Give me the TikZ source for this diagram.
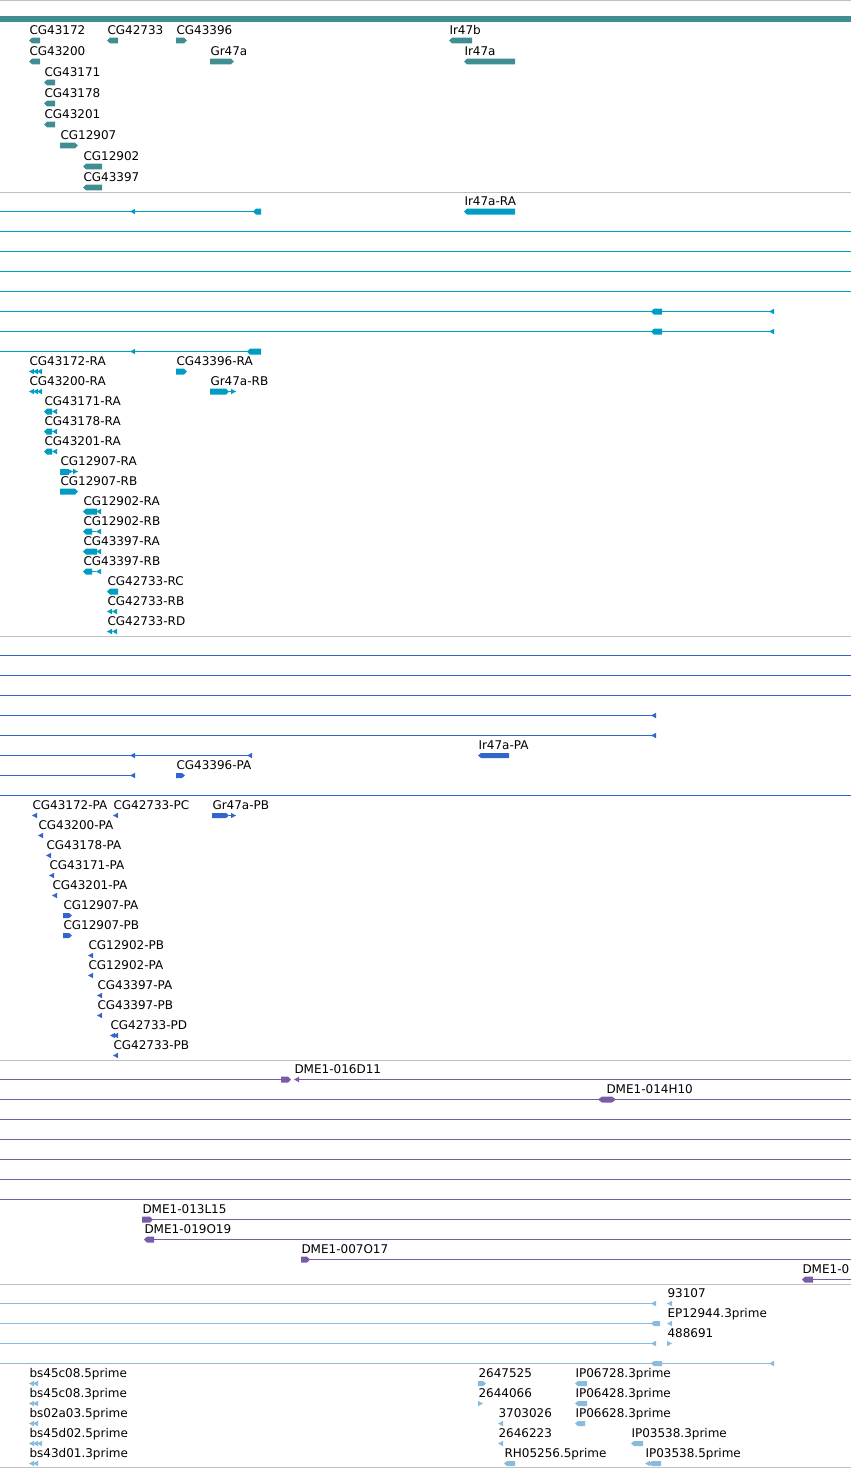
\documentclass[tikz,border=0pt]{standalone}
\usepackage{fontspec}
\setmainfont{DejaVu Sans}

\definecolor{sepgray}{RGB}{192,192,192}
\definecolor{genecol}{RGB}{64,142,145}
\definecolor{trancol}{RGB}{0,156,196}
\definecolor{protcol}{RGB}{51,102,204}
\definecolor{clonecol}{RGB}{120,92,170}
\definecolor{estcol}{RGB}{136,187,221}

% glyph half height, changed per track
\newcommand{\glyphh}{3}
% blocks pointing left / right: x1, x2, y
\newcommand{\blkL}[3]{\fill (#1,#3) -- ({#1+3},{#3-\glyphh}) -- (#2,{#3-\glyphh}) -- (#2,{#3+\glyphh}) -- ({#1+3},{#3+\glyphh}) -- cycle;}
\newcommand{\blkR}[3]{\fill (#2,#3) -- ({#2-3},{#3-\glyphh}) -- (#1,{#3-\glyphh}) -- (#1,{#3+\glyphh}) -- ({#2-3},{#3+\glyphh}) -- cycle;}
% small triangles: x, y
\newcommand{\triL}[2]{\fill (#1,#2) -- ({#1+5},{#2-2.7}) -- ({#1+5},{#2+2.7}) -- cycle;}
\newcommand{\triR}[2]{\fill ({#1+5},#2) -- (#1,{#2-2.7}) -- (#1,{#2+2.7}) -- cycle;}
% label above a glyph row: name, x, y of row, text
\newcommand{\flab}[4]{\node[lbl] (#1) at (#2,{#3-6}) {#4};}

\begin{document}
\begin{tikzpicture}[x=1pt,y=-1pt]
\tikzset{
  lbl/.style={anchor=base west, inner sep=0pt, text=black, font=\fontsize{12}{14}\selectfont},
  sep/.style={draw=sepgray, line width=1pt},
  trk/.style={line width=1pt}
}
\useasboundingbox (0,0) rectangle (851,1468);

% half a pixel down, so the 1px rules sit on pixel rows
\begin{scope}[yshift=-0.5pt]

% track separators
\foreach \y in {0,192,636,1060,1284,1467}
  \draw[sep] (0,\y) -- (851,\y);

% genes
\begin{scope}[color=genecol, trk]
\renewcommand{\glyphh}{2.8}
\fill (0,15.5) rectangle (851,21.5);
\flab{g1}{29}{40}{CG43172} \blkL{29}{40}{40}
\flab{g2}{107}{40}{CG42733} \blkL{107}{118}{40}
\flab{g3}{176}{40}{CG43396} \blkR{176}{187}{40}
\flab{g4}{449}{40}{Ir47b} \blkL{449}{472}{40}
\flab{g5}{29}{61}{CG43200} \blkL{29}{40}{61}
\flab{g6}{210}{61}{Gr47a} \blkR{210}{234}{61}
\flab{g7}{464}{61}{Ir47a} \blkL{464}{515}{61}
\flab{g8}{44}{82}{CG43171} \blkL{44}{55}{82}
\flab{g9}{44}{103}{CG43178} \blkL{44}{55}{103}
\flab{g10}{44}{124}{CG43201} \blkL{44}{55}{124}
\flab{g11}{60}{145}{CG12907} \blkR{60}{78}{145}
\flab{g12}{83}{166}{CG12902} \blkL{83}{102}{166}
\flab{g13}{83}{187}{CG43397} \blkL{83}{102}{187}
\end{scope}

% transcripts
\begin{scope}[color=trancol, trk]
\draw (0,211) -- (260,211); \triL{130}{211} \blkL{253}{261}{211}
\flab{t1}{464}{211}{Ir47a-RA} \blkL{464}{515}{211}
\foreach \y in {231,251,271,291}
  \draw (0,\y) -- (851,\y);
\foreach \y in {311,331}
  {\draw (0,\y) -- (772,\y); \blkL{651}{662}{\y} \triL{769}{\y}}
\draw (0,351) -- (260,351); \triL{130}{351} \blkL{247}{261}{351}
\flab{t2}{29}{371}{CG43172-RA} \triL{29}{371}\triL{33}{371}\triL{37}{371}
\flab{t3}{176}{371}{CG43396-RA} \blkR{176}{187}{371}
\flab{t4}{29}{391}{CG43200-RA} \triL{29}{391}\triL{33}{391}\triL{37}{391}
\flab{t5}{210}{391}{Gr47a-RB} \blkR{210}{229}{391} \draw (229,391) -- (232,391); \triR{231}{391}
\flab{t6}{44}{411}{CG43171-RA} \blkL{44}{52}{411} \triL{52}{411}
\flab{t7}{44}{431}{CG43178-RA} \blkL{44}{52}{431} \triL{52}{431}
\flab{t8}{44}{451}{CG43201-RA} \blkL{44}{52}{451} \triL{52}{451}
\flab{t9}{60}{471}{CG12907-RA} \fill (60,468) rectangle (69,474); \triR{68}{471}\triR{73}{471}
\flab{t10}{60}{491}{CG12907-RB} \blkR{60}{78}{491}
\flab{t11}{83}{511}{CG12902-RA} \blkL{83}{97}{511} \triL{96}{511}
\flab{t12}{83}{531}{CG12902-RB} \blkL{83}{92}{531} \draw (92,531) -- (96,531); \triL{96}{531}
\flab{t13}{83}{551}{CG43397-RA} \blkL{83}{97}{551} \triL{96}{551}
\flab{t14}{83}{571}{CG43397-RB} \blkL{83}{92}{571} \draw (92,571) -- (96,571); \triL{96}{571}
\flab{t15}{107}{591}{CG42733-RC} \blkL{107}{118}{591}
\flab{t16}{107}{611}{CG42733-RB} \triL{107}{611}\triL{112}{611}
\flab{t17}{107}{631}{CG42733-RD} \triL{107}{631}\triL{112}{631}
\end{scope}

% proteins
\begin{scope}[color=protcol, trk]
\renewcommand{\glyphh}{2.5}
\foreach \y in {655,675,695,795}
  \draw (0,\y) -- (851,\y);
\foreach \y in {715,735}
  {\draw (0,\y) -- (655,\y); \triL{651}{\y}}
\draw (0,755) -- (251,755); \triL{130}{755} \triL{247}{755}
\draw (0,775) -- (134,775); \triL{130}{775}
\flab{p1}{478}{755}{Ir47a-PA} \blkL{478}{509}{755}
\flab{p2}{176}{775}{CG43396-PA} \blkR{176}{185}{775}
\flab{p3}{32}{815}{CG43172-PA} \triL{32}{815}
\flab{p4}{113}{815}{CG42733-PC} \triL{113}{815}
\flab{p5}{212}{815}{Gr47a-PB} \blkR{212}{229}{815} \draw (229,815) -- (232,815); \triR{231}{815}
\flab{p6}{38}{835}{CG43200-PA} \triL{38}{835}
\flab{p7}{46}{855}{CG43178-PA} \triL{46}{855}
\flab{p8}{49}{875}{CG43171-PA} \triL{49}{875}
\flab{p9}{52}{895}{CG43201-PA} \triL{52}{895}
\flab{p10}{63}{915}{CG12907-PA} \blkR{63}{72}{915}
\flab{p11}{63}{935}{CG12907-PB} \blkR{63}{72}{935}
\flab{p12}{88}{955}{CG12902-PB} \triL{88}{955}
\flab{p13}{88}{975}{CG12902-PA} \triL{88}{975}
\flab{p14}{97}{995}{CG43397-PA} \triL{97}{995}
\flab{p15}{97}{1015}{CG43397-PB} \triL{97}{1015}
\flab{p16}{110}{1035}{CG42733-PD} \triL{110}{1035}\triL{113}{1035}
\flab{p17}{113}{1055}{CG42733-PB} \triL{113}{1055}
\end{scope}

% BAC clones
\begin{scope}[color=clonecol, trk]
\draw (0,1079) -- (282,1079); \blkR{281}{291}{1079} \triL{294}{1079}
\draw (298,1079) -- (851,1079);
\flab{d1}{294}{1079}{DME1-016D11}
\foreach \y in {1099,1119,1139,1159,1179,1199}
  \draw (0,\y) -- (851,\y);
\fill (598,1099) -- (602,1096) -- (612,1096) -- (616,1099) -- (612,1102) -- (602,1102) -- cycle;
\flab{d2}{606}{1099}{DME1-014H10}
\flab{d3}{142}{1219}{DME1-013L15} \blkR{142}{153}{1219} \draw (153,1219) -- (851,1219);
\flab{d4}{144}{1239}{DME1-019O19} \blkL{144}{154}{1239} \draw (154,1239) -- (851,1239);
\flab{d5}{301}{1259}{DME1-007O17} \blkR{301}{310}{1259} \draw (310,1259) -- (851,1259);
\flab{d6}{802}{1279}{DME1-0} \blkL{802}{813}{1279} \draw (813,1279) -- (851,1279);
\end{scope}

% ESTs
\begin{scope}[color=estcol, trk]
\renewcommand{\glyphh}{2.5}
\draw (0,1303) -- (655,1303); \triL{651}{1303}
\flab{e1}{667}{1303}{93107} \triL{667}{1303}
\draw (0,1323) -- (660,1323); \blkL{651}{660}{1323}
\flab{e2}{667}{1323}{EP12944.3prime} \triL{667}{1323}
\draw (0,1343) -- (655,1343); \triL{651}{1343}
\flab{e3}{667}{1343}{488691} \triR{667}{1343}
\draw (0,1363) -- (772,1363); \blkL{651}{662}{1363} \triL{769}{1363}
\flab{e4}{29}{1383}{bs45c08.5prime} \triL{29}{1383}\triL{33}{1383}
\flab{e5}{29}{1403}{bs45c08.3prime} \triL{29}{1403}\triL{33}{1403}
\flab{e6}{29}{1423}{bs02a03.5prime} \triL{29}{1423}\triL{33}{1423}
\flab{e7}{29}{1443}{bs45d02.5prime} \triL{29}{1443}\triL{33}{1443}\triL{37}{1443}
\flab{e8}{29}{1463}{bs43d01.3prime} \triL{29}{1463}\triL{33}{1463}
\flab{e9}{478}{1383}{2647525} \blkR{478}{486}{1383}
\flab{e10}{478}{1403}{2644066} \triR{478}{1403}
\flab{e11}{498}{1423}{3703026} \triL{498}{1423}
\flab{e12}{498}{1443}{2646223} \triL{498}{1443}
\flab{e13}{504}{1463}{RH05256.5prime} \blkL{504}{515}{1463}
\flab{e14}{575}{1383}{IP06728.3prime} \blkL{575}{587}{1383}
\flab{e15}{575}{1403}{IP06428.3prime} \blkL{575}{587}{1403}
\flab{e16}{575}{1423}{IP06628.3prime} \blkL{575}{585}{1423}
\flab{e17}{631}{1443}{IP03538.3prime} \blkL{631}{643}{1443}
\flab{e18}{645}{1463}{IP03538.5prime} \triL{645}{1463} \blkL{649}{661}{1463}
\end{scope}

\end{scope}
\end{tikzpicture}
\end{document}
